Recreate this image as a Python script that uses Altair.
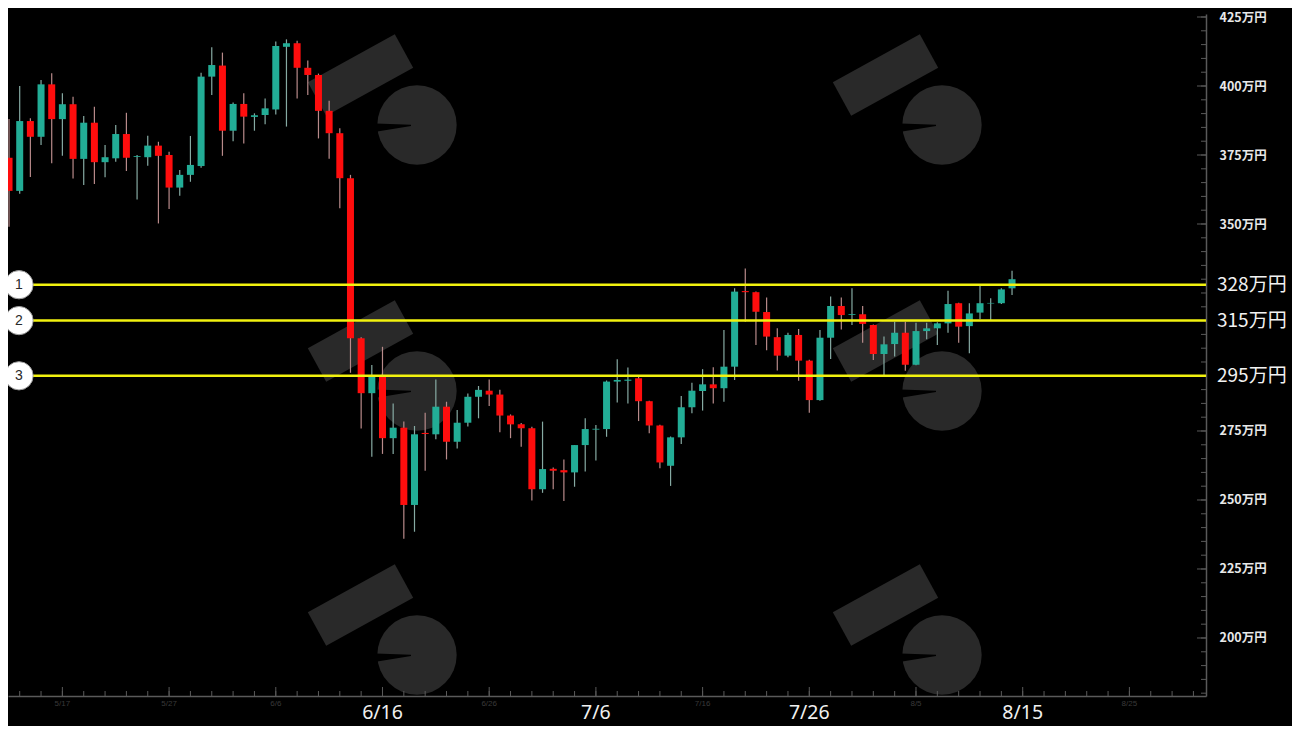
import altair as alt
import pandas as pd

# ---- data (BTC/JPY daily candles, 万円) ----
start_date = "2022-05-12"
opens = [374, 362, 387.3, 381.6, 400.6, 388, 393.4, 373.6, 386.7, 372.4,
         373.8, 382.6, 374.3, 374.2, 378.4, 375, 363.2, 367.8, 371, 403.4,
         407.4, 383.8, 393.5, 388.8, 389.5, 391.5, 414.2, 415.5, 406.6, 404,
         391, 382.9, 366.6, 308.6, 288.7, 294.7, 272.4, 276.2, 248.2, 274.3,
         273.8, 283.8, 271.1, 278, 287.4, 289.6, 288.2, 280.6, 277.4, 276,
         253.9, 261.3, 260.8, 260, 269.9, 275.5, 275.7, 292.9, 293.2, 294.1,
         285.8, 277, 262.4, 272.7, 283.6, 289.5, 291.9, 290.5, 298.3, 325.7,
         325.3, 318.1, 309, 302.3, 309.8, 300.5, 286.2, 308.8, 320.3, 317.1,
         317.3, 313.4, 302.9, 306.5, 310.6, 299, 311.2, 312.2, 314, 321.3,
         313, 317.9, 321.2, 321.3, 326.7]
highs = [388, 400, 388.3, 402.2, 404.6, 397.4, 396.1, 389.1, 392.5, 378.6,
         385.9, 390.3, 375, 382, 379.8, 376.2, 369.6, 381.9, 404.8, 414,
         412.1, 394, 397.4, 390.1, 395.5, 416.1, 416.9, 416.4, 409.2, 404.5,
         394.7, 384.7, 367.8, 309, 298.9, 305.5, 285, 278.4, 276.8, 281.6,
         293.7, 285.6, 282.6, 288.6, 291.3, 293.7, 289.9, 281, 277.9, 276.5,
         278.4, 261.8, 264.7, 269.9, 279.6, 277.2, 293.3, 301, 298, 294.8,
         286, 277.3, 273, 287.7, 292.5, 297.4, 298.1, 311.6, 326.7, 333.9,
         325.5, 323.4, 312.2, 310.6, 312, 300.8, 311.6, 323.7, 323.4, 326.7,
         320.3, 313.6, 309.2, 314.6, 314.6, 314.2, 314.2, 314.4, 325.8, 321.5,
         321.3, 327.9, 323.1, 326.7, 333.1]
lows = [349, 361, 367, 378.6, 372, 374.7, 366.5, 364.1, 364.5, 366.9,
        372.6, 369.2, 358.9, 371.1, 350.2, 355.4, 360.2, 365.3, 370.4, 396.7,
        374.7, 380, 379.2, 383.8, 386.1, 389.7, 385.3, 395.5, 396.7, 381,
        373.6, 355.7, 296.1, 275.9, 265.7, 266.7, 266.7, 236, 238.5, 260.6,
        272, 264.7, 268.7, 276.6, 279.6, 284.1, 274.5, 272.4, 269.3, 249.8,
        252.6, 253.9, 249.6, 254.8, 260.3, 264.3, 272.9, 285.3, 285, 278.6,
        274.2, 261.5, 255.1, 270.3, 281.4, 282.4, 285, 285.6, 293.5, 314.6,
        306.2, 304.3, 296.9, 301.7, 293.2, 281.6, 286, 301.1, 311.8, 313.4,
        307, 300.7, 295.3, 302, 296.8, 298.8, 308.2, 306.2, 310.6, 307,
        303.2, 315.5, 315, 321, 324.3]
closes = [362, 387.3, 381.6, 400.6, 388, 393.4, 373.6, 386.7, 372.4, 374.2,
          382.6, 374, 374.6, 378.4, 374.7, 363.2, 367.8, 371.4, 403.4, 407.6,
          383.8, 393.5, 388.9, 389.4, 391.9, 414.5, 415.5, 406.6, 404, 391,
          382.9, 366.6, 308.6, 288.7, 294.7, 272.4, 276.2, 248.2, 273.8, 273.9,
          283.8, 271.1, 278, 287.4, 289.9, 288.2, 280.6, 277.4, 276, 253.9,
          261.2, 260.6, 260, 269.9, 275.7, 275.8, 292.9, 293.5, 293.6, 285.8,
          277, 263.6, 272.7, 283.6, 289.6, 291.9, 290.5, 298.3, 325.5, 325.3,
          318.2, 309.2, 302.3, 309.8, 300.5, 286.2, 308.8, 320.3, 317, 317.4,
          313.8, 302.9, 306.4, 310.6, 299, 311.2, 312.2, 314, 321, 312.8,
          317.6, 321.3, 321.4, 326.3, 330]

levels = [328, 315, 295]
level_labels = ["328万円", "315万円", "295万円"]
level_numbers = ["1", "2", "3"]

y_label_values = [425, 400, 375, 350, 275, 250, 225, 200]
y_minor_ticks = list(range(180, 430, 5))

x_tick_days = [5, 15, 25, 35, 45, 55, 65, 75, 85, 95, 105]
x_tick_texts = ["5/17", "5/27", "6/6", "6/16", "6/26", "7/6", "7/16", "7/26", "8/5", "8/15", "8/25"]
x_bright = ["6/16", "7/6", "7/26", "8/15"]
x_minor_days = list(range(1, 112, 2))

# ---- frames ----
candles = pd.DataFrame({
    "day": list(range(len(opens))),
    "open": opens, "high": highs, "low": lows, "close": closes,
})
candles["date"] = (pd.Timestamp(start_date) + pd.to_timedelta(candles["day"], unit="D")).dt.strftime("%Y-%m-%d")
candles["dir"] = ["up" if c >= o else "down" for o, c in zip(opens, closes)]
candles["wdir"] = candles["dir"]

lv = pd.DataFrame({"level": levels, "label": level_labels, "num": level_numbers})
ylab = pd.DataFrame({"v": y_label_values})
yminor = pd.DataFrame({"v": y_minor_ticks})
xlab = pd.DataFrame({"day": x_tick_days, "text": x_tick_texts})
xlab["bright"] = xlab["text"].isin(x_bright)
xminor = pd.DataFrame({"day": x_minor_days})
xmajor = pd.DataFrame({"day": x_tick_days})

TOP = 6
W, H = 1198, 682
X_DOM = [0.372, 111.71]
Y_DOM = [178.98, 426.09]

xs = alt.Scale(domain=X_DOM, nice=False, zero=False)
ys = alt.Scale(domain=Y_DOM, nice=False, zero=False)

AXIS_GREY = "#5a5a5a"
WM = "#292929"

# ---- watermark decoration (logo repeated in a 2x3 grid, pixel space) ----
logo_cols = [0, 525]
logo_rows = [-3, 263, 527]
bands, blobs = [], []
for dx in logo_cols:
    for dy in logo_rows:
        bands.append({"x": 309 + dx, "y": 88 + dy, "x2": 396 + dx, "y2": 40 + dy})
        blobs.append({"x": 409 + dx, "y": 114 + dy})
wm_band = alt.Chart(pd.DataFrame(bands)).mark_rule(color=WM, strokeWidth=38, strokeCap="butt").encode(
    x=alt.X("x:Q", scale=None), y=alt.Y("y:Q", scale=None),
    x2="x2:Q", y2="y2:Q",
)
wm_blob = alt.Chart(pd.DataFrame(blobs)).mark_point(shape="circle", filled=True, size=6300,
                                                     color=WM, opacity=1).encode(
    x=alt.X("x:Q", scale=None), y=alt.Y("y:Q", scale=None),
)
wm_notch = alt.Chart(pd.DataFrame(blobs)).mark_arc(color="#000000", radius=48, radius2=6,
                                                    theta=4.55, theta2=4.75).encode(
    x=alt.X("x:Q", scale=None), y=alt.Y("y:Q", scale=None),
)

base = alt.Chart(candles)

wicks = base.mark_rule(strokeWidth=1.2).encode(
    x=alt.X("day:Q", scale=xs,
            axis=alt.Axis(labels=False, ticks=False, grid=False, domainColor=AXIS_GREY,
                          domainWidth=1.5, title=None)),
    y=alt.Y("low:Q", scale=ys,
            axis=alt.Axis(orient="right", values=y_label_values, grid=False, tickSize=0,
                          labelExpr="datum.value + '万円'", labelPadding=13,
                          labelFontSize=12.5, labelColor="#e8e8e8", labelFontWeight="bold",
                          labelFont="Noto Sans CJK JP", domainColor=AXIS_GREY, domainWidth=1.5,
                          title=None)),
    y2="high:Q",
    stroke=alt.Stroke("wdir:N", scale=alt.Scale(domain=["up", "down"], range=["#86aaa3", "#b88a8a"]),
                      legend=None),
)

bodies = base.mark_bar(size=7, strokeWidth=1).encode(
    x=alt.X("day:Q", scale=xs),
    y=alt.Y("open:Q", scale=ys),
    y2="close:Q",
    fill=alt.Fill("dir:N", scale=alt.Scale(domain=["up", "down"], range=["#22ad96", "#ff0d0d"]),
                  legend=None),
    color=alt.Color("dir:N", scale=alt.Scale(domain=["up", "down"], range=["#3cc0aa", "#ff3030"]),
                    legend=None),
    tooltip=["date:N", "open:Q", "high:Q", "low:Q", "close:Q"],
)

level_lines = alt.Chart(lv).mark_rule(color="#f2f20f", strokeWidth=2.5).encode(
    x=alt.value(24), x2=alt.value(W),
    y=alt.Y("level:Q", scale=ys),
)

circles = alt.Chart(lv).mark_point(shape="circle", filled=True, size=800, color="#ffffff",
                                   stroke="#9a9a9a", strokeWidth=1, opacity=1).encode(
    x=alt.value(11),
    y=alt.Y("level:Q", scale=ys),
)

circle_text = alt.Chart(lv).mark_text(fontSize=14, color="#2a2a2a", font="Liberation Sans").encode(
    x=alt.value(11),
    y=alt.Y("level:Q", scale=ys),
    text="num:N",
)

level_text = alt.Chart(lv).mark_text(align="left", baseline="middle", fontSize=19,
                                     color="#f2f2f2", font="Noto Sans CJK JP").encode(
    x=alt.value(W + 11),
    y=alt.Y("level:Q", scale=ys),
    text="label:N",
)

y_minor = alt.Chart(yminor).mark_rule(color=AXIS_GREY, strokeWidth=1).encode(
    x=alt.value(W - 5), x2=alt.value(W),
    y=alt.Y("v:Q", scale=ys),
)
y_major = alt.Chart(ylab).mark_rule(color=AXIS_GREY, strokeWidth=1).encode(
    x=alt.value(W - 9), x2=alt.value(W),
    y=alt.Y("v:Q", scale=ys),
)

x_minor = alt.Chart(xminor).mark_rule(color=AXIS_GREY, strokeWidth=1).encode(
    x=alt.X("day:Q", scale=xs),
    y=alt.value(H - 5), y2=alt.value(H),
)
x_major = alt.Chart(xmajor).mark_rule(color=AXIS_GREY, strokeWidth=1).encode(
    x=alt.X("day:Q", scale=xs),
    y=alt.value(H - 9), y2=alt.value(H),
)

x_faint = alt.Chart(xlab).transform_filter("!datum.bright").mark_text(
    fontSize=8, color="#3a3a3a", baseline="top").encode(
    x=alt.X("day:Q", scale=xs),
    y=alt.value(H + 4),
    text="text:N",
)
x_strong = alt.Chart(xlab).transform_filter("datum.bright").mark_text(
    fontSize=19.5, color="#f0f0f0", baseline="middle",
    font="Liberation Sans Narrow, Noto Sans, sans-serif").encode(
    x=alt.X("day:Q", scale=xs),
    y=alt.value(H + 17),
    text="text:N",
)

chart = alt.layer(
    wm_band, wm_blob, wm_notch,
    wicks, bodies, y_minor, y_major, x_minor, x_major,
    level_lines, circles, circle_text, level_text, x_faint, x_strong,
).resolve_scale(
    color="independent", fill="independent", stroke="independent",
).properties(
    width=W, height=H,
    background="#000000",
    padding={"left": 0, "top": TOP, "right": 86, "bottom": 30},
    autosize=alt.AutoSizeParams(type="none"),
).configure_view(stroke=None)

chart.save("out.html", embed_options={"renderer": "svg", "actions": False})
